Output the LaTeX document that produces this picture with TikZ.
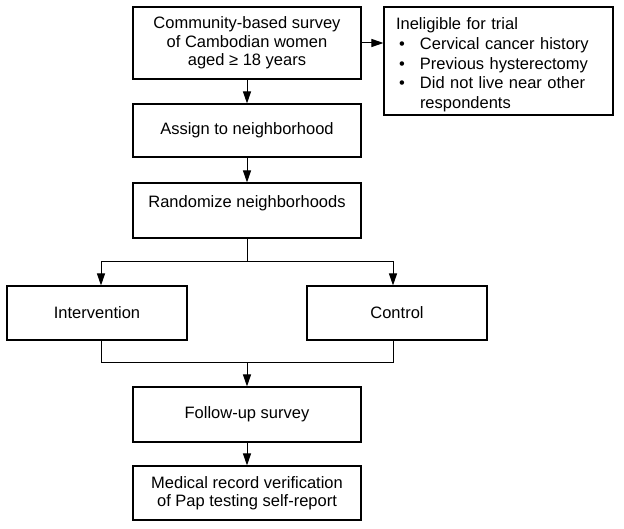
\documentclass[tikz,border=0pt]{standalone}
\usepackage{fontspec}
\setmainfont{Liberation Sans}
\usetikzlibrary{arrows.meta,calc}
\begin{document}
\begin{tikzpicture}[x=1pt,y=-1pt,
  box/.style={draw,line width=1.1pt,inner sep=0pt,align=center,
    font=\fontsize{16.5pt}{18.5pt}\selectfont},
  conn/.style={line width=1pt},
  arr/.style={conn,-{Triangle[length=12pt,width=8pt]}}]
\useasboundingbox (0,0) rectangle (624,529);
\node[box,minimum width=228,minimum height=72] (survey) at (247,43)
  {Community-based survey\\of Cambodian women\\aged ≥ 18 years};
\node[box,minimum width=227,minimum height=108,align=left,text width=205pt,
  inner xsep=12pt,font=\fontsize{16.5pt}{19.7pt}\selectfont] (inel) at (498.5,61)
  {\rule{0pt}{20pt}Ineligible for trial\\
   \hspace*{3pt}\makebox[21pt][l]{•}Cervical cancer history\\
   \hspace*{3pt}\makebox[21pt][l]{•}Previous hysterectomy\\
   \hspace*{3pt}\makebox[21pt][l]{•}Did not live near other\\
   \hspace*{24pt}respondents};
\node[box,minimum width=228,minimum height=53] (assign) at (247,130.5)
  {Assign to neighborhood};
\node[box,minimum width=228,minimum height=55,text height=12pt,text depth=17pt] (rand) at (247,210.5)
  {Randomize neighborhoods};
\node[box,minimum width=180,minimum height=54] (interv) at (97,313)
  {Intervention};
\node[box,minimum width=180,minimum height=54] (control) at (397,313)
  {Control};
\node[box,minimum width=228,minimum height=55] (follow) at (247,414.5)
  {Follow-up survey};
\node[box,minimum width=228,minimum height=54] (medical) at (247,493)
  {Medical record verification\\of Pap testing self-report};
\coordinate (split) at (247,262);
\coordinate (join) at (247,363);
\draw[arr] (survey.east) -- (survey.east -| inel.west);
\draw[arr] (survey.south) -- (assign.north);
\draw[arr] (assign.south) -- (rand.north);
\draw[conn] (rand.south) -- (split);
\draw[arr] (split) -| ([xshift=4pt]interv.north);
\draw[arr] (split) -| ([xshift=-4pt]control.north);
\draw[conn] ([xshift=4pt]interv.south) |- (join);
\draw[conn] ([xshift=-4pt]control.south) |- (join);
\draw[arr] (join) -- (follow.north);
\draw[arr] (follow.south) -- (medical.north);
\end{tikzpicture}
\end{document}
